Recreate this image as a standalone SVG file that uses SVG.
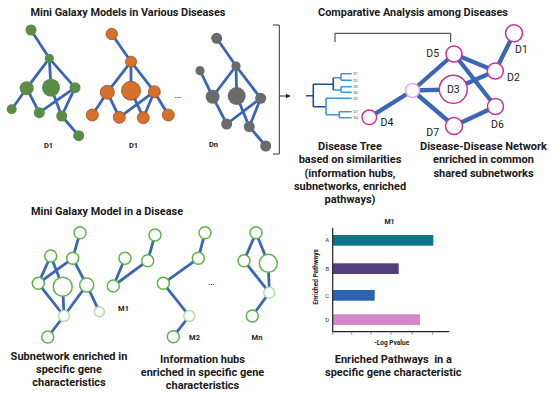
<svg xmlns="http://www.w3.org/2000/svg" width="550" height="394" viewBox="0 0 550 394">
<defs>
<style>
text{font-family:Roboto,"Liberation Sans",Arial,sans-serif;fill:#1a1a1a}
.t{font-size:10.9px;font-weight:bold;text-anchor:middle}
.lb{font-size:11px;font-weight:bold;text-anchor:middle}
.dl{font-size:7.5px;font-weight:bold;text-anchor:middle}
.e{stroke:#3a66b7;stroke-width:2.8;stroke-linecap:butt;fill:none}
.en{stroke:#3a66b7;stroke-width:4.3;fill:none}
.g{fill:#5a8c48}
.o{fill:#d5712b;stroke:#9e4e1c;stroke-width:0.8}
.k{fill:#6a6a6a}
.p{fill:#fff;stroke:#c9309a;stroke-width:1.5}
.ph{fill:#fff;stroke:#eba7d8;stroke-width:1.5}
.nl{font-size:10.5px;text-anchor:middle}
.gc{fill:#fff;stroke:#5bb548;stroke-width:1.5}
.gf{fill:#fff;stroke:#b4dea6;stroke-width:1.5}
.tr{stroke:#1e4f8e;stroke-width:1.6;fill:none}
.tl{stroke:#3b98dc;stroke-width:1.6;fill:none}
.leaf{font-size:3.6px;fill:#555}
.ax{font-size:6px;fill:#333;text-anchor:middle}
.br{stroke:#333;stroke-width:1;fill:none}
</style>
<marker id="ah" viewBox="0 0 10 10" refX="9" refY="5" markerWidth="5" markerHeight="5" orient="auto"><path d="M0,0L10,5L0,10z" fill="#222"/></marker>
</defs>
<rect width="550" height="394" fill="#fff"/>

<!-- titles -->
<text class="t" x="128" y="16">Mini Galaxy Models in Various Diseases</text>
<text class="t" x="413" y="16">Comparative Analysis among Diseases</text>
<text class="t" x="107" y="215">Mini Galaxy Model in a Disease</text>

<!-- connectors -->
<g id="connectors">
 <!-- green galaxy -->
 <path class="e" d="M31,30L49.3,58.3M49.3,58.3L26.7,88.3M49.3,58.3L51,87.7M49.3,58.3L75,87.7M26.7,88.3L11.7,109.3M26.7,88.3L39.3,112.7M39.3,112.7L75,87.7M51,87.7L61.7,116M75,87.7L61.7,116M61.7,116L78.7,135.7"/>
 <!-- orange galaxy -->
 <path class="e" d="M111.7,34L131,61.7M131,61.7L107.3,92.3M131,61.7L131,90.7M131,61.7L154.3,91.7M107.3,92.3L92.3,115M107.3,92.3L119.3,117.3M119.3,117.3L154.3,91.7M131,90.7L143.3,117.7M154.3,91.7L143.3,117.7M154.3,91.7L168.3,115"/>
 <!-- gray galaxy -->
 <path class="e" d="M216.7,38.3L236,66M200,70.7L212.7,96.7M236,66L212.7,96.7M236,66L236.7,96M236,66L260.7,98.3M212.7,96.7L226.7,124M226.7,124L260.7,98.3M236.7,96L249.3,126.7M260.7,98.3L249.3,126.7M249.3,126.7L265.7,146"/>
 <!-- bracket and arrow -->
 <path class="br" d="M273,25H279.3V154H273"/>
 <path d="M279.3,96H290" stroke="#222" stroke-width="1" marker-end="url(#ah)"/>
 <path class="br" d="M335,42V33.3H450.7V42"/>
 <!-- disease network -->
 <path class="en" d="M369.3,117.3L412.5,90.5M412.5,90.5L454,54M412.5,90.5L453.3,89.3M412.5,90.5L454,126M454,54L495.3,71M454,54L495.5,106.5M453.3,89.3L495.3,71M495.3,71L514,33.3M454,126L495.5,106.5"/>
 <!-- bottom networks -->
 <path class="e" d="M80,232.7L72.7,258.3M50.7,256L38.3,283.3M50.7,256L62.7,286.7M72.7,258.3L38.3,283.3M72.7,258.3L86.7,285M38.3,283.3L64,316M62.7,286.7L64,316M86.7,285L64,316M86.7,285L99.3,311.7M64,316L47.7,337"/>
 <path class="e" d="M155,235L147.7,260.7M147.7,260.7L113.3,286M125,258.3L113.3,286"/>
 <path class="e" d="M205,232.7L198.3,258.3M198.3,258.3L163.3,283.3M163.3,283.3L189.3,316M189.3,316L173.3,336.7"/>
 <path class="e" d="M256,232.7L244,260.7M256,232.7L268.3,263.3M244,260.7L269.3,292.7M268.3,263.3L269.3,292.7M269.3,292.7L252.3,316"/>
</g>

<!-- top-left galaxies -->
<g id="galaxy-green">
 <circle class="g" cx="31" cy="30" r="5.5"/>
 <circle class="g" cx="49.3" cy="58.3" r="4.6"/>
 <circle class="g" cx="26.7" cy="88.3" r="7"/>
 <circle class="g" cx="51" cy="87.7" r="9"/>
 <circle class="g" cx="75" cy="87.7" r="5.5"/>
 <circle class="g" cx="11.7" cy="109.3" r="5"/>
 <circle class="g" cx="39.3" cy="112.7" r="5.5"/>
 <circle class="g" cx="61.7" cy="116" r="5.5"/>
 <circle class="g" cx="78.7" cy="135.7" r="5.5"/>
 <text class="dl" x="48.5" y="148">D1</text>
</g>
<g id="galaxy-orange">
 <circle class="o" cx="111.7" cy="34" r="5.7"/>
 <circle class="o" cx="131" cy="61.7" r="5.5"/>
 <circle class="o" cx="107.3" cy="92.3" r="7"/>
 <circle class="o" cx="131" cy="90.7" r="9.5"/>
 <circle class="o" cx="154.3" cy="91.7" r="6"/>
 <circle class="o" cx="92.3" cy="115" r="6"/>
 <circle class="o" cx="119.3" cy="117.3" r="6"/>
 <circle class="o" cx="143.3" cy="117.7" r="6"/>
 <circle class="o" cx="168.3" cy="115" r="6"/>
 <text class="dl" x="133.5" y="148">D1</text>
 <text class="dl" x="178" y="98">...</text>
</g>
<g id="galaxy-gray">
 <circle class="k" cx="216.7" cy="38.3" r="5.5"/>
 <circle class="k" cx="236" cy="66" r="4.6"/>
 <circle class="k" cx="200" cy="70.7" r="4.6"/>
 <circle class="k" cx="212.7" cy="96.7" r="7"/>
 <circle class="k" cx="236.7" cy="96" r="9"/>
 <circle class="k" cx="260.7" cy="98.3" r="5.5"/>
 <circle class="k" cx="226.7" cy="124" r="5.5"/>
 <circle class="k" cx="249.3" cy="126.7" r="5.5"/>
 <circle class="k" cx="265.7" cy="146" r="5.5"/>
 <text class="dl" x="213.5" y="147">Dn</text>
</g>

<!-- disease tree -->
<g id="disease-tree">
 <path class="tr" d="M306,95.7H313.3M313.3,84.3V106.7M313.3,84.3H333.3M333.3,77.7V90M313.3,106.7H326"/>
 <path class="tl" d="M333.3,77.7H341M341,73.7V80.3M341,73.7H351.7M341,80.3H351.7M333.3,90H341M341,86.7V92.3M341,86.7H351.7M341,92.3H351.7M326,98.3V114.7M326,98.3H351.7M326,114.7H339.3M339.3,111.7V117.7M339.3,111.7H351.7M339.3,117.7H351.7"/>
 <text class="leaf" x="353.5" y="75">D1</text>
 <text class="leaf" x="353.5" y="81.6">D2</text>
 <text class="leaf" x="353.5" y="88">D5</text>
 <text class="leaf" x="353.5" y="93.6">D6</text>
 <text class="leaf" x="353.5" y="99.6">D3</text>
 <text class="leaf" x="353.5" y="113">D7</text>
 <text class="leaf" x="353.5" y="119">D4</text>
 <text class="lb" x="350" y="150">Disease Tree</text>
 <text class="lb" x="350" y="163.3">based on similarities</text>
 <text class="lb" x="350" y="176.6">(information hubs,</text>
 <text class="lb" x="350" y="189.9">subnetworks, enriched</text>
 <text class="lb" x="350" y="203">pathways)</text>
</g>

<!-- disease network nodes -->
<g id="node-D4"><circle class="p" cx="369.3" cy="117.3" r="7.3"/><text class="nl" x="387" y="126">D4</text></g>
<g id="node-hub"><circle class="ph" cx="412.5" cy="90.5" r="7"/></g>
<g id="node-D5"><circle class="p" cx="454" cy="54" r="8"/><text class="nl" x="432.7" y="57">D5</text></g>
<g id="node-D3"><circle class="p" cx="453.3" cy="89.3" r="14"/><text class="nl" x="453.3" y="93">D3</text></g>
<g id="node-D2"><circle class="p" cx="495.3" cy="71" r="8"/><text class="nl" x="513.5" y="81">D2</text></g>
<g id="node-D1"><circle class="p" cx="514" cy="33.3" r="8.5"/><text class="nl" x="521.5" y="53">D1</text></g>
<g id="node-D6"><circle class="p" cx="495.5" cy="106.5" r="8"/><text class="nl" x="497.5" y="127.5">D6</text></g>
<g id="node-D7"><circle class="p" cx="454" cy="126" r="8.5"/><text class="nl" x="432.7" y="136">D7</text></g>
<g id="network-label">
 <text class="lb" x="483.5" y="150">Disease-Disease Network</text>
 <text class="lb" x="483.5" y="163.3">enriched in common</text>
 <text class="lb" x="483.5" y="176.6">shared subnetworks</text>
</g>

<!-- bottom mini galaxy -->
<g id="subnetwork">
 <circle class="gc" cx="80" cy="232.7" r="6"/>
 <circle class="gc" cx="50.7" cy="256" r="6"/>
 <circle class="gc" cx="72.7" cy="258.3" r="6"/>
 <circle class="gc" cx="38.3" cy="283.3" r="6"/>
 <circle class="gc" cx="62.7" cy="286.7" r="9.5"/>
 <circle class="gc" cx="86.7" cy="285" r="7"/>
 <circle class="gf" cx="64" cy="316" r="5.5"/>
 <circle class="gf" cx="99.3" cy="311.7" r="5"/>
 <circle class="gc" cx="47.7" cy="337" r="6"/>
 <text class="lb" x="69" y="360">Subnetwork enriched in</text>
 <text class="lb" x="69" y="373.3">specific gene</text>
 <text class="lb" x="69" y="386.3">characteristics</text>
</g>
<g id="module-M1">
 <circle class="gc" cx="155" cy="235" r="6"/>
 <circle class="gc" cx="125" cy="258.3" r="6"/>
 <circle class="gc" cx="147.7" cy="260.7" r="6"/>
 <circle class="gc" cx="113.3" cy="286" r="6"/>
 <text class="dl" x="123.5" y="311">M1</text>
</g>
<g id="module-M2">
 <circle class="gc" cx="205" cy="232.7" r="6"/>
 <circle class="gc" cx="198.3" cy="258.3" r="6"/>
 <circle class="gc" cx="163.3" cy="283.3" r="6"/>
 <circle class="gf" cx="189.3" cy="316" r="5.5"/>
 <circle class="gc" cx="173.3" cy="336.7" r="6"/>
 <text class="dl" x="194.5" y="339.5">M2</text>
 <text class="dl" x="211.5" y="285">...</text>
</g>
<g id="module-Mn">
 <circle class="gc" cx="256" cy="232.7" r="6"/>
 <circle class="gc" cx="244" cy="260.7" r="6"/>
 <circle class="gc" cx="268.3" cy="263.3" r="9"/>
 <circle class="gf" cx="269.3" cy="292.7" r="5.5"/>
 <circle class="gc" cx="252.3" cy="316" r="6"/>
 <text class="dl" x="257" y="339.5">Mn</text>
</g>
<g id="hubs-label">
 <text class="lb" x="202.5" y="363">Information hubs</text>
 <text class="lb" x="202.5" y="376.3">enriched in specific gene</text>
 <text class="lb" x="202.5" y="388.5">characteristics</text>
</g>

<!-- chart -->
<g id="chart">
 <text x="389.5" y="223.5" style="font-size:7px;font-weight:bold;text-anchor:middle">M1</text>
 <rect x="332.7" y="235" width="100.6" height="10.7" fill="#0f7490"/>
 <rect x="332.7" y="263.3" width="66" height="10.7" fill="#553d7e"/>
 <rect x="332.7" y="290" width="42" height="10.7" fill="#2e63b1"/>
 <rect x="332.7" y="314.3" width="87.3" height="10.7" fill="#d588c7"/>
 <path d="M332.7,227.7V331.7H449.3" stroke="#222" stroke-width="1.2" fill="none"/>
 <path d="M332.7,331.7v3M351.7,331.7v3M371,331.7v3M391,331.7v3M412.3,331.7v3M432.7,331.7v3" stroke="#555" stroke-width="0.6"/>
 <text class="ax" x="327.3" y="242">A</text>
 <text class="ax" x="327.3" y="270.7">B</text>
 <text class="ax" x="327.3" y="297.5">C</text>
 <text class="ax" x="327.3" y="322">D</text>
 <text transform="translate(317.5,277) rotate(-90)" style="font-size:6.5px;font-weight:bold;text-anchor:middle">Enriched Pathways</text>
 <text x="391.7" y="345" style="font-size:6.5px;font-weight:bold;text-anchor:middle">-Log Pvalue</text>
 <text class="lb" x="393.3" y="363" xml:space="preserve">Enriched Pathways  in a</text>
 <text class="lb" x="393.3" y="376.3">specific gene characteristic</text>
</g>
</svg>
